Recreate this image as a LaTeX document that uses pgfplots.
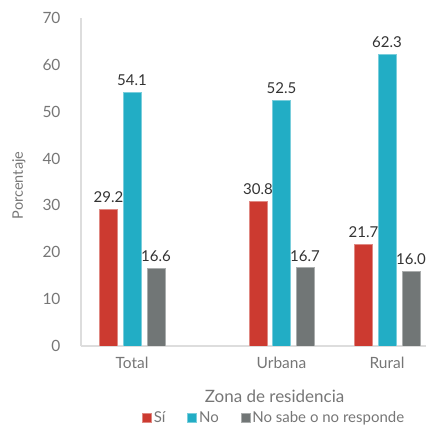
\documentclass[border=0pt]{standalone}
\usepackage{fontspec}
\setmainfont{Lato}
\usepackage{pgfplots}
\pgfplotsset{compat=1.18}
\definecolor{csi}{HTML}{CC3A30}
\definecolor{cno}{HTML}{22ADC5}
\definecolor{cns}{HTML}{717676}
\definecolor{txt}{HTML}{767676}
\definecolor{val}{HTML}{333333}
\definecolor{axl}{HTML}{DDDDDD}

\begin{document}
\begin{tikzpicture}
\useasboundingbox (0,0) rectangle (426bp,426bp);
\begin{axis}[
    at={(81bp,80bp)}, anchor=south west,
    width=345bp, height=328bp, scale only axis,
    xmin=81, xmax=426, ymin=0, ymax=70,
    axis x line*=bottom, axis y line*=left,
    axis line style={draw=axl, line width=1.3bp, -},
    ytick={0,10,...,70},
    xtick={132,281.5,387},
    xticklabels={Total, Urbana, Rural},
    major tick length=0pt,
    tick label style={font=\fontsize{15.5bp}{18bp}\selectfont, text=txt},
    /pgf/number format/assume math mode=true,
    yticklabel style={xshift=-17bp},
    xticklabel style={yshift=-8bp},
    xlabel={Zona de residencia},
    xlabel style={at={(rel axis cs:0.561,-0.152)}, anchor=center, font=\fontsize{17bp}{20bp}\selectfont, text=txt},
    ylabel={Porcentaje},
    ylabel style={at={(rel axis cs:-0.18,0.49)}, anchor=center, rotate=0, font=\fontsize{14.5bp}{16bp}\selectfont, text=txt},
    ybar, bar shift=0pt, bar width=18,
    nodes near coords={\pgfmathprintnumber[fixed,fixed zerofill,precision=1]{\pgfplotspointmeta}},
    every node near coord/.append style={font=\fontsize{15bp}{17bp}\selectfont, text=val, yshift=3bp},
    legend columns=3,
    legend style={at={(rel axis cs:0.56,-0.2195)}, anchor=center, draw=none, fill=none,
        font=\fontsize{15bp}{18bp}\selectfont, text=txt,
        /tikz/every even column/.append style={column sep=20bp}},
    legend image code/.code={\fill[#1] (0bp,-4.5bp) rectangle (9bp,4.5bp);},
]
\addplot[fill=csi, draw=csi!60!white, line width=0.6bp] coordinates {(108.5,29.2) (258,30.8) (363.5,21.7)};
\addplot[fill=cno, draw=cno!60!white, line width=0.6bp] coordinates {(132,54.1) (281.5,52.5) (387,62.3)};
\addplot[fill=cns, draw=cns!60!white, line width=0.6bp] coordinates {(156,16.6) (305,16.7) (411,16.0)};
\legend{Sí, No, No sabe o no responde}
\end{axis}
\end{tikzpicture}
\end{document}
